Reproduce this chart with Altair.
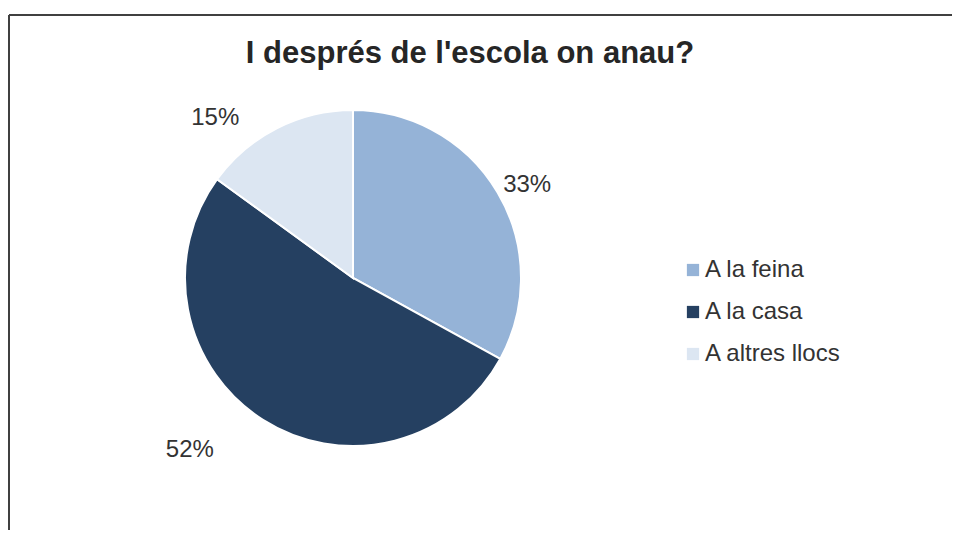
import altair as alt
import pandas as pd
import math

categories = ["A la feina", "A la casa", "A altres llocs"]
values = [33, 52, 15]
labels = ["33%", "52%", "15%"]
colors = ["#95B3D7", "#254061", "#DCE6F2"]
title_text = "I després de l'escola on anau?"

df = pd.DataFrame({"cat": categories, "val": values, "lab": labels, "ord": list(range(len(categories)))})

FONT = "Liberation Sans"
W, H = 944, 522
CX, CY, R = 345, 270, 168

theta_scale = alt.Scale(domain=[0, 1], range=[0, 2 * math.pi])

base = (
    alt.Chart(df)
    .transform_joinaggregate(total="sum(val)")
    .transform_window(cum="sum(val)", sort=[alt.SortField("ord")])
    .transform_calculate(
        start="(datum.cum - datum.val) / datum.total",
        end="datum.cum / datum.total",
        mid="(datum.cum - datum.val / 2) / datum.total",
    )
)

pie = base.mark_arc(radius=R, stroke="white", strokeWidth=2).encode(
    x=alt.value(CX), y=alt.value(CY),
    theta=alt.Theta("start:Q", scale=theta_scale),
    theta2="end:Q",
    color=alt.Color(
        "cat:N",
        scale=alt.Scale(domain=categories, range=colors),
        sort=categories,
        legend=alt.Legend(
            title=None, orient="none", legendX=673, legendY=250,
            symbolType="square", symbolSize=150, symbolStrokeWidth=0,
            labelFont=FONT, labelFontSize=24, labelColor="#333333",
            rowPadding=18, labelOffset=0, labelLimit=300,
        ),
    ),
)

offsets = {"A la feina": (2, 9), "A la casa": (-56, 3), "A altres llocs": (-47, 18)}
texts = []
for c in categories:
    dx, dy = offsets[c]
    texts.append(
        base.transform_filter(alt.datum.cat == c)
        .mark_text(radius=200, font=FONT, fontSize=24, color="#333333",
                   align="center", baseline="middle", dx=dx, dy=dy)
        .encode(x=alt.value(CX), y=alt.value(CY),
                theta=alt.Theta("mid:Q", scale=theta_scale), text="lab:N")
    )

title = alt.Chart(pd.DataFrame({"t": [title_text]})).mark_text(
    font=FONT, fontSize=31, fontWeight="bold", color="#262626",
    align="center", baseline="middle",
).encode(text="t:N", x=alt.value(462), y=alt.value(46))

frame_top = alt.Chart(pd.DataFrame({"a": [0]})).mark_rule(color="#404040", strokeWidth=2).encode(
    x=alt.value(1), x2=alt.value(W + 8), y=alt.value(7))
frame_left = alt.Chart(pd.DataFrame({"a": [0]})).mark_rule(color="#404040", strokeWidth=2).encode(
    x=alt.value(1), y=alt.value(7), y2=alt.value(H + 20))

chart = alt.layer(frame_top, frame_left, title, pie, *texts).properties(
    width=W, height=H, padding=0, background="white",
    autosize=alt.AutoSizeParams(type="none"),
).configure_view(strokeWidth=0, stroke="transparent")

chart.save("out.html", embed_options={"renderer": "svg", "actions": False})
